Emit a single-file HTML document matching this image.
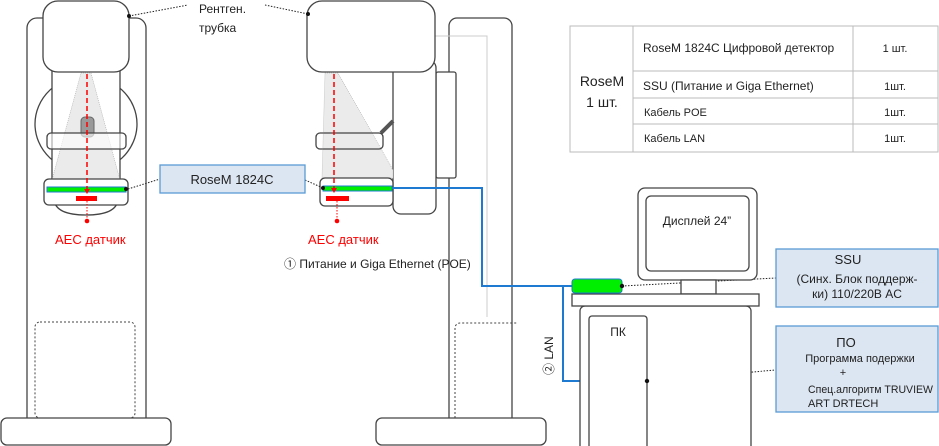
<!DOCTYPE html>
<html><head><meta charset="utf-8"><style>
body{margin:0;background:#fff}
svg{display:block}
text{font-family:"Liberation Sans","Noto Sans CJK SC",sans-serif;fill:#222}
</style></head><body>
<svg width="939" height="446" viewBox="0 0 939 446" xmlns="http://www.w3.org/2000/svg">
<g fill="#fff" stroke="#444" stroke-width="1.3">
<rect x="27" y="18" width="119" height="420" rx="10"/>
<rect x="35" y="322" width="100" height="96" rx="5" stroke-dasharray="2,2" stroke-width="1"/>
<ellipse cx="86" cy="124" rx="51" ry="48"/>
<rect x="52" y="65" width="68" height="118"/>
<path d="M54,200 Q56,215 86,215 Q116,215 118,200 Z"/>
</g>
<polygon points="81,73 91,73 120,180 52,180" fill="#ebebeb" stroke="#aaa" stroke-width="0.6" stroke-dasharray="1,1"/>
<rect x="81" y="117" width="13" height="20" rx="4" fill="#999" stroke="#666"/>
<rect x="47" y="133" width="79" height="16" rx="4" fill="#fff" stroke="#444" stroke-width="1.3" fill-opacity="0.6"/>
<rect x="44" y="179" width="84" height="26" rx="5" fill="#fff" stroke="#444" stroke-width="1.3"/>
<rect x="47" y="187" width="79" height="5" fill="#00ee00" stroke="#1e7ad0" stroke-width="1"/>
<rect x="76" y="196" width="21" height="5" fill="#f00"/>
<rect x="43" y="1" width="86" height="71" rx="15" fill="#fff" stroke="#444" stroke-width="1.3"/>
<rect x="1" y="418" width="170" height="27" rx="6" fill="#fff" stroke="#444" stroke-width="1.3"/>
<line x1="87" y1="74" x2="87" y2="190" stroke="#f00" stroke-width="1.5" stroke-dasharray="5,3"/>
<polygon points="84,189 90,189 87,194" fill="#f00"/>
<line x1="87" y1="201" x2="87" y2="221" stroke="#f00" stroke-width="1" stroke-dasharray="1.5,1.5"/>
<circle cx="87" cy="221" r="2.3" fill="#f00"/>
<text x="55" y="244" font-size="13" style="fill:#f00">AEC датчик</text>

<rect x="449" y="18" width="63" height="420" rx="8" fill="#fff" stroke="#444" stroke-width="1.3"/>
<polyline points="435,36 487,36 487,317" fill="none" stroke="#ccc" stroke-width="1"/>
<path d="M455,418 V328 a5,5 0 0 1 5,-5 H518" fill="none" stroke="#444" stroke-dasharray="2,2"/>
<rect x="376" y="418" width="170" height="27" rx="6" fill="#fff" stroke="#444" stroke-width="1.3"/>
<rect x="436" y="72" width="20" height="106" rx="2" fill="#fff" stroke="#444" stroke-width="1.3"/>
<rect x="393" y="60" width="43" height="154" rx="8" fill="#fff" stroke="#444" stroke-width="1.3"/>
<polygon points="325,73 338,73 393,170 393,178 322,178" fill="#ebebeb" stroke="#aaa" stroke-width="0.6" stroke-dasharray="1,1"/>
<line x1="381" y1="133" x2="393" y2="121" stroke="#555" stroke-width="4"/>
<rect x="316" y="133" width="67" height="16" rx="4" fill="none" stroke="#444" stroke-width="1.3"/>
<rect x="320" y="178" width="73" height="28" rx="5" fill="#fff" stroke="#444" stroke-width="1.3"/>
<rect x="323" y="186" width="69" height="5" fill="#00ee00" stroke="#1e7ad0" stroke-width="1"/>
<rect x="326" y="196" width="23" height="5" fill="#f00"/>
<rect x="307" y="1" width="128" height="71" rx="15" fill="#fff" stroke="#444" stroke-width="1.3"/>
<line x1="334" y1="74" x2="334" y2="189" stroke="#f00" stroke-width="1.5" stroke-dasharray="5,3"/>
<polygon points="331,188 337,188 334,193" fill="#f00"/>
<line x1="337" y1="201" x2="337" y2="221" stroke="#f00" stroke-width="1" stroke-dasharray="1.5,1.5"/>
<circle cx="337" cy="221" r="2.3" fill="#f00"/>
<text x="308" y="244" font-size="13" style="fill:#f00">AEC датчик</text>
<text x="284" y="268" font-size="12">① Питание и Giga Ethernet (POE)</text>

<g stroke="#222" stroke-width="1" stroke-dasharray="1.5,1.5" fill="none">
<line x1="129" y1="16" x2="188" y2="5"/>
<line x1="265" y1="5" x2="308" y2="14"/>
<line x1="128" y1="189" x2="160" y2="179"/>
<line x1="305" y1="180" x2="323" y2="188"/>
<line x1="622" y1="286" x2="776" y2="278"/>
<line x1="647" y1="381" x2="776" y2="370"/>
</g>
<circle cx="129" cy="16" r="2" fill="#111"/>
<circle cx="308" cy="14" r="2" fill="#111"/>
<circle cx="126" cy="189" r="2" fill="#111"/>
<circle cx="323" cy="188" r="2" fill="#111"/>
<text x="199" y="13" font-size="12">Рентген.</text>
<text x="199" y="32" font-size="12">трубка</text>

<rect x="160" y="165" width="145" height="28" fill="#dce6f2" stroke="#5b9bd5" stroke-width="1.3"/>
<text x="232" y="184" font-size="13" text-anchor="middle">RoseM 1824C</text>

<polyline points="392,188 482,188 482,286 572,286" fill="none" stroke="#1e7ad0" stroke-width="2"/>
<polyline points="563,286 563,381 590,381" fill="none" stroke="#1e7ad0" stroke-width="2"/>
<text x="0" y="0" font-size="12" transform="translate(553,375) rotate(-90)">② LAN</text>

<rect x="638" y="188" width="119" height="92" rx="7" fill="#fff" stroke="#444" stroke-width="1.3"/>
<rect x="646" y="196" width="103" height="75" rx="5" fill="#fff" stroke="#444" stroke-width="1.3"/>
<text x="697" y="225" font-size="12" text-anchor="middle">Дисплей 24”</text>
<rect x="681" y="280" width="35" height="14" fill="#fff" stroke="#444" stroke-width="1.3"/>
<rect x="580" y="306" width="171" height="145" rx="5" fill="#fff" stroke="#444" stroke-width="1.3"/>
<rect x="589" y="316" width="58" height="135" rx="3" fill="#fff" stroke="#444" stroke-width="1.3"/>
<text x="618" y="336" font-size="12" text-anchor="middle">ПК</text>
<rect x="572" y="294" width="187" height="12" fill="#fff" stroke="#444" stroke-width="1.3"/>
<rect x="572" y="279" width="50" height="14" rx="3" fill="#00ee00" stroke="#1e7ad0" stroke-width="1"/>
<circle cx="622" cy="286" r="2.2" fill="#111"/>
<circle cx="647" cy="381" r="2.2" fill="#111"/>

<rect x="776" y="249" width="162" height="58" fill="#dce6f2" stroke="#5b9bd5" stroke-width="1.3"/>
<text x="848" y="264" font-size="13" text-anchor="middle">SSU</text>
<text x="857" y="283" font-size="12" text-anchor="middle">(Синх. Блок поддерж-</text>
<text x="857" y="298" font-size="12" text-anchor="middle">ки) 110/220В AC</text>
<rect x="776" y="326" width="162" height="86" fill="#dce6f2" stroke="#5b9bd5" stroke-width="1.3"/>
<text x="846" y="347" font-size="13" text-anchor="middle">ПО</text>
<text x="860" y="362" font-size="11" text-anchor="middle">Программа подержки</text>
<text x="843" y="376" font-size="11" text-anchor="middle">+</text>
<text x="808" y="393" font-size="11" textLength="125" lengthAdjust="spacingAndGlyphs">Спец.алгоритм TRUVIEW</text>
<text x="808" y="407" font-size="11">ART DRTECH</text>

<g stroke="#bbb" stroke-width="1" fill="none">
<rect x="570" y="26" width="368" height="126"/>
<line x1="633" y1="26" x2="633" y2="152"/>
<line x1="853" y1="26" x2="853" y2="152"/>
<line x1="633" y1="71" x2="938" y2="71"/>
<line x1="633" y1="98" x2="938" y2="98"/>
<line x1="633" y1="124" x2="938" y2="124"/>
</g>
<text x="602" y="86" font-size="14" text-anchor="middle">RoseM</text>
<text x="602" y="107" font-size="14" text-anchor="middle">1 шт.</text>
<text x="643" y="52" font-size="12">RoseM 1824C Цифровой детектор</text>
<text x="643" y="90" font-size="12">SSU (Питание и Giga Ethernet)</text>
<text x="644" y="116" font-size="11">Кабель POE</text>
<text x="644" y="142" font-size="11">Кабель LAN</text>
<text x="895" y="52" font-size="11" text-anchor="middle">1 шт.</text>
<text x="895" y="90" font-size="11" text-anchor="middle">1шт.</text>
<text x="895" y="116" font-size="11" text-anchor="middle">1шт.</text>
<text x="895" y="142" font-size="11" text-anchor="middle">1шт.</text>
</svg>
</body></html>
